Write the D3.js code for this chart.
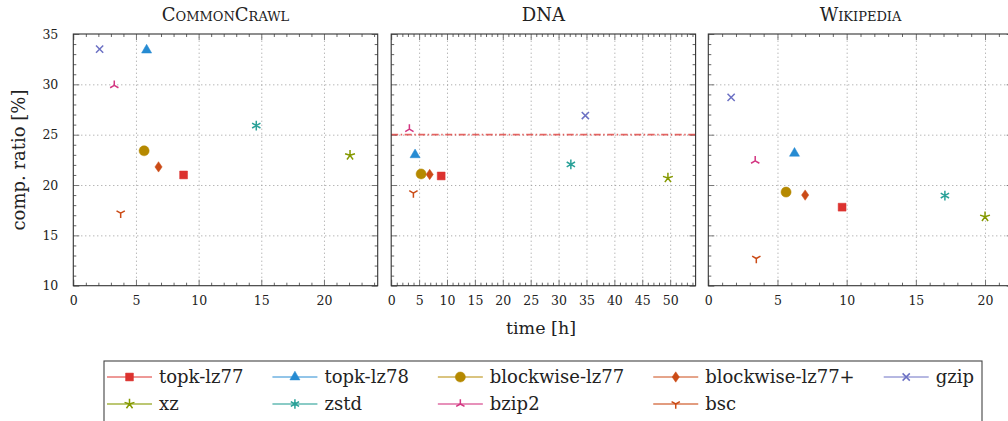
<!DOCTYPE html>
<html>
<head>
  <meta charset="utf-8">
  <title>Compression ratio vs time</title>
  <script src="https://d3js.org/d3.v7.min.js"></script>
  <style>
    body { margin: 0; background: #fff; }
    svg text { font-family: "DejaVu Serif", serif; fill: #222; }
    .tick text { font-size: 12.5px; }
    .domain { display: none; }
    .grid line { stroke: #999; stroke-dasharray: 1 3; stroke-width: 1; }
    .major line { stroke: #777; }
    .minor line { stroke: #666; }
  </style>
</head>
<body>
  <svg width="1008" height="421"></svg>
  <script>
    // series in legend order
    var series = ["topk-lz77", "topk-lz78", "blockwise-lz77", "blockwise-lz77+", "gzip", "xz", "zstd", "bzip2", "bsc"];
    var colors = ["#dc322f", "#268bd2", "#b58900", "#cb4b16", "#6c71c4", "#859900", "#2aa198", "#d33682", "#cb4b16"];
    var marks = ["square", "triangle", "circle", "diamond", "cross", "star", "asterisk", "tri-up", "tri-down"];

    var datasets = ["CommonCrawl", "DNA", "Wikipedia"];

    // time [h] and compression ratio [%] per dataset, same order as series
    var timeCC = [8.8, 5.85, 5.65, 6.8, 2.1, 22.08, 14.6, 3.27, 3.78];
    var ratioCC = [21.0, 33.4, 23.4, 21.8, 33.5, 22.95, 25.9, 29.9, 17.2];
    var timeDNA = [8.96, 4.28, 5.36, 6.9, 34.8, 49.6, 32.2, 3.26, 3.98];
    var ratioDNA = [20.9, 23.0, 21.1, 21.05, 26.9, 20.7, 22.05, 25.55, 19.2];
    var timeWiki = [9.67, 6.23, 5.62, 7.0, 1.65, 20.0, 17.1, 3.39, 3.47];
    var ratioWiki = [17.8, 23.15, 19.3, 19.0, 28.7, 16.85, 18.95, 22.4, 12.7];

    var times = [timeCC, timeDNA, timeWiki];
    var ratios = [ratioCC, ratioDNA, ratioWiki];

    var xTicks = [[0, 5, 10, 15, 20], [0, 5, 10, 15, 20, 25, 30, 35, 40, 45, 50], [0, 5, 10, 15, 20]];
    var yTicks = [10, 15, 20, 25, 30, 35];
    var dnaRefLine = 25;

    var svg = d3.select("svg");
    var panelLeft = [73.3, 391.2, 708.3],
        panelW = 304.4,
        plotTop = 34, plotBottom = 285.7;

    var y = d3.scaleLinear().domain([10, 35]).range([plotBottom, plotTop]);
    var yMinor = d3.range(10, 35.5, 1).filter(function(v) { return v % 5 != 0; });

    function markerPath(type) {
      switch (type) {
        case "square": return d3.symbol(d3.symbolSquare, 62)();
        case "triangle": return d3.symbol(d3.symbolTriangle, 44)();
        case "circle": return d3.symbol(d3.symbolCircle, 80)();
        case "diamond": return "M0,-5.2L3.6,0L0,5.2L-3.6,0Z";
        case "cross": return "M-3.6,-3.6L3.6,3.6M-3.6,3.6L3.6,-3.6";
        default:
          var n = type == "star" ? 5 : type == "asterisk" ? 6 : 3;
          var r = type == "star" ? 5.2 : 4.8;
          var off = type == "tri-down" ? Math.PI : 0;
          var p = "";
          for (var i = 0; i < n; i++) {
            var a = off + i * 2 * Math.PI / n;
            p += "M0,0L" + (r * Math.sin(a)).toFixed(2) + "," + (-r * Math.cos(a)).toFixed(2);
          }
          return p;
      }
    }
    function isFilled(type) {
      return ["square", "triangle", "circle", "diamond"].indexOf(type) >= 0;
    }
    function drawMark(g, i, cx, cy) {
      var filled = isFilled(marks[i]);
      g.append("path")
        .attr("d", markerPath(marks[i]))
        .attr("transform", "translate(" + cx + "," + cy + ")")
        .attr("fill", filled ? colors[i] : "none")
        .attr("stroke", colors[i])
        .attr("stroke-width", filled ? 0.5 : 1.5);
    }

    datasets.forEach(function(name, k) {
      var x0 = panelLeft[k];
      var x = d3.scaleLinear().domain([0, d3.max(times[k]) * 1.1]).range([x0, x0 + panelW]);
      var xMinor = d3.range(0, x.domain()[1], 1).filter(function(v) { return v % 5 != 0; });
      var g = svg.append("g");

      // grid
      g.append("g").attr("class", "grid")
        .attr("transform", "translate(0," + plotBottom + ")")
        .call(d3.axisBottom(x).tickValues(xTicks[k].slice(1)).tickSize(-(plotBottom - plotTop)).tickFormat(""));
      g.append("g").attr("class", "grid")
        .attr("transform", "translate(" + x0 + ",0)")
        .call(d3.axisLeft(y).tickValues(yTicks.slice(1, -1)).tickSize(-panelW).tickFormat(""));

      // minor ticks on all sides
      g.append("g").attr("class", "minor").attr("transform", "translate(0," + plotBottom + ")")
        .call(d3.axisBottom(x).tickValues(xMinor).tickSize(-3).tickFormat(""));
      g.append("g").attr("class", "minor").attr("transform", "translate(0," + plotTop + ")")
        .call(d3.axisTop(x).tickValues(xMinor).tickSize(-3).tickFormat(""));
      g.append("g").attr("class", "minor").attr("transform", "translate(" + x0 + ",0)")
        .call(d3.axisLeft(y).tickValues(yMinor).tickSize(-3).tickFormat(""));
      g.append("g").attr("class", "minor").attr("transform", "translate(" + (x0 + panelW) + ",0)")
        .call(d3.axisRight(y).tickValues(yMinor).tickSize(-3).tickFormat(""));

      // major ticks
      g.append("g").attr("class", "major").attr("transform", "translate(0," + plotBottom + ")")
        .call(d3.axisBottom(x).tickValues(xTicks[k]).tickSize(-6).tickPadding(12))
        .selectAll("text").attr("dy", "0.55em");
      g.append("g").attr("class", "major").attr("transform", "translate(0," + plotTop + ")")
        .call(d3.axisTop(x).tickValues(xTicks[k]).tickSize(-6).tickFormat(""));
      var yl = g.append("g").attr("class", "major").attr("transform", "translate(" + x0 + ",0)")
        .call(d3.axisLeft(y).tickValues(yTicks).tickSize(-6).tickPadding(15));
      if (k != 0) yl.selectAll("text").remove();
      g.append("g").attr("class", "major").attr("transform", "translate(" + (x0 + panelW) + ",0)")
        .call(d3.axisRight(y).tickValues(yTicks).tickSize(-6).tickFormat(""));

      // reference line in DNA panel
      if (name == "DNA") {
        g.append("line")
          .attr("x1", x0).attr("x2", x0 + panelW)
          .attr("y1", y(dnaRefLine)).attr("y2", y(dnaRefLine))
          .attr("stroke", "#dc322f").attr("stroke-opacity", 0.75)
          .attr("stroke-width", 1.8)
          .attr("stroke-dasharray", "7 2.5 1.5 2.5");
      }

      // frame
      g.append("rect")
        .attr("x", x0).attr("y", plotTop)
        .attr("width", panelW).attr("height", plotBottom - plotTop)
        .attr("fill", "none").attr("stroke", "#333").attr("stroke-width", 1.1);

      // points
      series.forEach(function(s, i) {
        drawMark(g, i, x(times[k][i]), y(ratios[k][i]));
      });

      // title
      g.append("text")
        .attr("x", x0 + panelW / 2).attr("y", 21)
        .attr("text-anchor", "middle")
        .style("font-size", "18px")
        .style("font-variant", name == "DNA" ? "normal" : "small-caps")
        .text(name);
    });

    // axis labels
    svg.append("text")
      .attr("x", 541).attr("y", 334)
      .attr("text-anchor", "middle")
      .style("font-size", "17.5px")
      .text("time [h]");
    svg.append("text")
      .attr("transform", "translate(25,160) rotate(-90)")
      .attr("text-anchor", "middle")
      .style("font-size", "18px")
      .text("comp. ratio [%]");

    // legend, 5 columns x 2 rows
    var legend = svg.append("g");
    var nCols = 5, lineLen = 45, rowY = [377, 404];
    var colX = [107];
    var texts = series.map(function(s, i) {
      var row = Math.floor(i / nCols);
      return legend.append("text")
        .attr("y", rowY[row]).attr("dy", "0.33em")
        .style("font-size", "18px")
        .text(s);
    });
    for (var c = 0; c < nCols; c++) {
      var w = 0;
      for (var i = c; i < series.length; i += nCols) w = Math.max(w, texts[i].node().getComputedTextLength());
      colX.push(colX[c] + lineLen + 7 + w + 29);
    }
    series.forEach(function(s, i) {
      var col = i % nCols, row = Math.floor(i / nCols);
      var lx = colX[col];
      legend.append("line")
        .attr("x1", lx).attr("x2", lx + lineLen)
        .attr("y1", rowY[row]).attr("y2", rowY[row])
        .attr("stroke", colors[i])
        .attr("stroke-width", row == 0 ? 1 : 2)
        .attr("stroke-opacity", row == 0 ? 1 : 0.55);
      drawMark(legend, i, lx + lineLen / 2, rowY[row]);
      texts[i].attr("x", lx + lineLen + 7);
    });
    legend.insert("rect", ":first-child")
      .attr("x", 104).attr("y", 361)
      .attr("width", colX[nCols] - 29 + 8 - 104).attr("height", 70)
      .attr("fill", "none").attr("stroke", "#444").attr("stroke-width", 1.1);
  </script>
</body>
</html>
